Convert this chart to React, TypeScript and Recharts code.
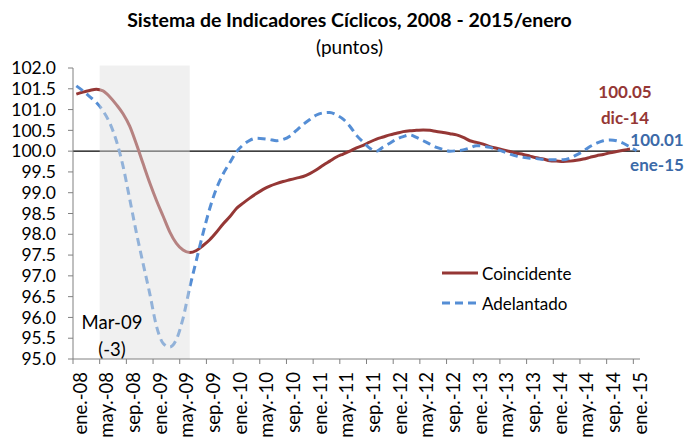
import React from 'react';
import {
  LineChart,
  Line,
  XAxis,
  YAxis,
  ReferenceLine,
  ReferenceArea,
} from 'recharts';

const monthNames = ['ene.', 'feb.', 'mar.', 'abr.', 'may.', 'jun.', 'jul.', 'ago.', 'sep.', 'oct.', 'nov.', 'dic.'];
const yearCodes = ['08', '09', '10', '11', '12', '13', '14'];

// ene.-08 ... dic.-14, ene.-15
const periods = [
  ...yearCodes.flatMap((yy) => monthNames.map((m) => `${m}-${yy}`)),
  'ene.-15',
];

const coincidente = [
  101.37, 101.42, 101.46, 101.49, 101.45, 101.31, 101.12, 100.9, 100.6, 100.17,
  99.7, 99.24, 98.82, 98.44, 98.06, 97.78, 97.62, 97.56, 97.61, 97.73,
  97.87, 98.05, 98.25, 98.42, 98.62, 98.75, 98.87, 98.98, 99.08, 99.16,
  99.22, 99.27, 99.31, 99.35, 99.39, 99.46, 99.55, 99.66, 99.76, 99.86,
  99.93, 100.0, 100.08, 100.14, 100.22, 100.29, 100.34, 100.39, 100.43, 100.47,
  100.49, 100.5, 100.51, 100.5, 100.47, 100.45, 100.42, 100.39, 100.33, 100.25,
  100.21, 100.17, 100.11, 100.07, 100.03, 99.99, 99.95, 99.92, 99.88, 99.84,
  99.81, 99.77, 99.76, 99.75, 99.76, 99.78, 99.81, 99.85, 99.89, 99.92,
  99.96, 99.99, 100.02, 100.05,
];

const adelantado = [
  101.57, 101.45, 101.31, 101.17, 100.97, 100.68, 100.25, 99.64, 98.85, 98.04,
  97.3, 96.58, 95.8, 95.38, 95.29, 95.47, 95.98, 96.72, 97.38, 98.03,
  98.62, 99.1, 99.45, 99.72, 99.98, 100.15, 100.26, 100.31, 100.3, 100.28,
  100.25, 100.28, 100.36, 100.5, 100.64, 100.76, 100.87, 100.92, 100.93, 100.87,
  100.77, 100.6, 100.38, 100.22, 100.07, 100.0, 100.1, 100.19, 100.29, 100.35,
  100.39, 100.33, 100.25, 100.17, 100.09, 100.04, 100.0, 100.01, 100.03, 100.08,
  100.13, 100.12, 100.09, 100.04, 99.99, 99.93, 99.88, 99.85, 99.83, 99.82,
  99.8, 99.79, 99.79, 99.79, 99.83, 99.91, 100.0, 100.11, 100.19, 100.25,
  100.27, 100.25, 100.19, 100.1, 100.01,
];

const yTicks = [95, 95.5, 96, 96.5, 97, 97.5, 98, 98.5, 99, 99.5, 100, 100.5, 101, 101.5, 102];

// tick marks sit on the edges between months, one every 4 months
const xTickEdges = Array.from({ length: 22 }, (_, k) => k * 4 - 0.5);

const data = periods.map((period, i) => ({
  i,
  period,
  coincidente: i < coincidente.length ? coincidente[i] : null,
  adelantado: adelantado[i],
}));

const FONT = 'Lato, "DejaVu Sans", sans-serif';
const RED = '#953735';
const BLUE = '#558ED5';
const AXIS = '#808080';

const XTick = (props: any) => {
  const { x, y, payload } = props;
  const label = periods[Math.round(payload.value + 0.5)] ?? '';
  const tx = x + 6.5;
  return (
    <text
      x={tx}
      y={y}
      transform={`rotate(-90, ${tx}, ${y})`}
      textAnchor="end"
      dominantBaseline="central"
      fontFamily={FONT}
      fontSize={18.5}
      fill="#000"
    >
      {label}
    </text>
  );
};

const LegendBox = () => (
  <div style={{ position: 'absolute', left: 441, top: 258, fontFamily: FONT, fontSize: 17, color: '#000' }}>
    <div style={{ display: 'flex', alignItems: 'center', height: 30 }}>
      <svg width={38} height={10}>
        <line x1={1} y1={5} x2={37} y2={5} stroke={RED} strokeWidth={3} />
      </svg>
      <span style={{ marginLeft: 3 }}>Coincidente</span>
    </div>
    <div style={{ display: 'flex', alignItems: 'center', height: 30 }}>
      <svg width={38} height={10}>
        <line x1={1} y1={5} x2={37} y2={5} stroke={BLUE} strokeWidth={3} strokeDasharray="8 5" />
      </svg>
      <span style={{ marginLeft: 3 }}>Adelantado</span>
    </div>
  </div>
);

const abs = (left: number, top: number, extra: React.CSSProperties = {}): React.CSSProperties => ({
  position: 'absolute',
  left,
  top,
  fontFamily: FONT,
  lineHeight: 1,
  whiteSpace: 'nowrap',
  ...extra,
});

export default function App() {
  return (
    <div style={{ position: 'absolute', left: 0, top: 0, width: 699, height: 447, background: '#fff' }}>
      <LineChart
        width={699}
        height={447}
        data={data}
        margin={{ top: 68, right: 59, bottom: 0, left: 13 }}
      >
        <XAxis
          dataKey="i"
          type="number"
          domain={[-0.5, 84.5]}
          ticks={xTickEdges}
          interval={0}
          height={88}
          tickSize={5}
          tickMargin={8}
          axisLine={{ stroke: AXIS }}
          tickLine={{ stroke: AXIS }}
          tick={<XTick />}
        />
        <YAxis
          type="number"
          domain={[95, 102]}
          ticks={yTicks}
          interval={0}
          width={60}
          tickSize={5}
          tickMargin={12}
          axisLine={{ stroke: AXIS }}
          tickLine={{ stroke: AXIS }}
          tickFormatter={(v: number) => v.toFixed(1)}
          tick={{ fill: '#000', fontSize: 17.5, fontFamily: FONT }}
        />
        <ReferenceLine y={100} stroke="#000" strokeWidth={1.2} />
        <Line
          type="monotone"
          dataKey="coincidente"
          stroke={RED}
          strokeWidth={3}
          dot={false}
          isAnimationActive={false}
        />
        <Line
          type="monotone"
          dataKey="adelantado"
          stroke={BLUE}
          strokeWidth={3}
          strokeDasharray="8 5"
          dot={false}
          isAnimationActive={false}
        />
        <ReferenceArea
          x1={3.5}
          x2={17}
          y1={95}
          y2={102.06}
          ifOverflow="visible"
          fill="#dedede"
          fillOpacity={0.45}
          stroke="none"
          zIndex={450}
        />
      </LineChart>

      <LegendBox />

      <div style={abs(0, 10, { width: 699, textAlign: 'center', fontWeight: 700, fontSize: 19.5 })}>
        Sistema de Indicadores Cíclicos, 2008 - 2015/enero
      </div>
      <div style={abs(0, 37, { width: 699, textAlign: 'center', fontSize: 19 })}>(puntos)</div>

      <div style={abs(72, 313, { width: 80, textAlign: 'center', fontSize: 18.5 })}>Mar-09</div>
      <div style={abs(72, 340, { width: 80, textAlign: 'center', fontSize: 18.5 })}>(-3)</div>

      <div style={abs(585, 83, { width: 80, textAlign: 'center', fontSize: 17, fontWeight: 700, color: RED })}>100.05</div>
      <div style={abs(585, 109, { width: 80, textAlign: 'center', fontSize: 17, fontWeight: 700, color: RED })}>dic-14</div>
      <div style={abs(617, 131, { width: 80, textAlign: 'center', fontSize: 17, fontWeight: 700, color: '#3C6AA8' })}>100.01</div>
      <div style={abs(617, 156, { width: 80, textAlign: 'center', fontSize: 17, fontWeight: 700, color: '#3C6AA8' })}>ene-15</div>
    </div>
  );
}
